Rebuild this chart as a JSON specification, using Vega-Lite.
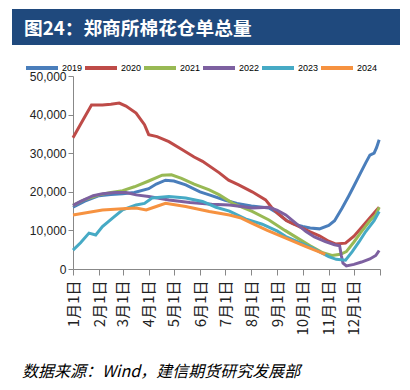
{
  "$schema": "https://vega.github.io/schema/vega-lite/v6.json",
  "padding": {"left": 12, "top": 9, "right": 10, "bottom": 5},
  "background": "white",
  "columns": 1,
  "align": "none",
  "spacing": -7,
  "resolve": {"scale": {"color": "independent", "x": "independent", "y": "independent"}, "legend": {"color": "independent"}},
  "config": {"view": {"stroke": null}, "font": "Noto Sans CJK SC"},
  "title": {"text": "数据来源：Wind，建信期货研究发展部", "orient": "bottom", "anchor": "start", "fontSize": 16, "fontStyle": "italic", "fontWeight": "normal", "font": "Noto Sans CJK SC", "color": "#000", "offset": 29, "dx": 10},
  "datasets": {
    "cotton": [
      {"year": "2019", "d": "2021-01-01", "v": 16000}, {"year": "2019", "d": "2021-01-15", "v": 17600}, {"year": "2019", "d": "2021-02-01", "v": 19000}, {"year": "2019", "d": "2021-02-15", "v": 19300}, {"year": "2019", "d": "2021-03-01", "v": 19500}, {"year": "2019", "d": "2021-03-15", "v": 19800}, {"year": "2019", "d": "2021-04-01", "v": 20800}, {"year": "2019", "d": "2021-04-10", "v": 22000}, {"year": "2019", "d": "2021-04-21", "v": 23000}, {"year": "2019", "d": "2021-05-01", "v": 22800}, {"year": "2019", "d": "2021-05-15", "v": 21800}, {"year": "2019", "d": "2021-06-01", "v": 20000}, {"year": "2019", "d": "2021-06-12", "v": 19200}, {"year": "2019", "d": "2021-07-01", "v": 17800}, {"year": "2019", "d": "2021-07-15", "v": 17000}, {"year": "2019", "d": "2021-08-01", "v": 16300}, {"year": "2019", "d": "2021-08-22", "v": 15800}, {"year": "2019", "d": "2021-09-01", "v": 14500}, {"year": "2019", "d": "2021-09-11", "v": 12700}, {"year": "2019", "d": "2021-09-20", "v": 11700}, {"year": "2019", "d": "2021-10-01", "v": 11000}, {"year": "2019", "d": "2021-10-10", "v": 10600}, {"year": "2019", "d": "2021-10-21", "v": 10400}, {"year": "2019", "d": "2021-11-01", "v": 11300}, {"year": "2019", "d": "2021-11-08", "v": 12500}, {"year": "2019", "d": "2021-11-17", "v": 15800}, {"year": "2019", "d": "2021-11-25", "v": 19000}, {"year": "2019", "d": "2021-12-01", "v": 21500}, {"year": "2019", "d": "2021-12-08", "v": 24500}, {"year": "2019", "d": "2021-12-15", "v": 27500}, {"year": "2019", "d": "2021-12-20", "v": 29500}, {"year": "2019", "d": "2021-12-25", "v": 30000}, {"year": "2019", "d": "2021-12-28", "v": 31500}, {"year": "2019", "d": "2021-12-31", "v": 33500},
      {"year": "2020", "d": "2021-01-01", "v": 34000}, {"year": "2020", "d": "2021-01-10", "v": 37500}, {"year": "2020", "d": "2021-01-23", "v": 42500}, {"year": "2020", "d": "2021-02-05", "v": 42500}, {"year": "2020", "d": "2021-02-15", "v": 42700}, {"year": "2020", "d": "2021-02-25", "v": 43000}, {"year": "2020", "d": "2021-03-05", "v": 42200}, {"year": "2020", "d": "2021-03-17", "v": 40400}, {"year": "2020", "d": "2021-03-27", "v": 37400}, {"year": "2020", "d": "2021-04-01", "v": 34800}, {"year": "2020", "d": "2021-04-11", "v": 34300}, {"year": "2020", "d": "2021-04-25", "v": 33000}, {"year": "2020", "d": "2021-05-11", "v": 30900}, {"year": "2020", "d": "2021-05-25", "v": 29000}, {"year": "2020", "d": "2021-06-04", "v": 27900}, {"year": "2020", "d": "2021-06-24", "v": 24900}, {"year": "2020", "d": "2021-07-05", "v": 23000}, {"year": "2020", "d": "2021-07-17", "v": 21800}, {"year": "2020", "d": "2021-08-02", "v": 20000}, {"year": "2020", "d": "2021-08-18", "v": 17900}, {"year": "2020", "d": "2021-08-25", "v": 16000}, {"year": "2020", "d": "2021-09-01", "v": 14500}, {"year": "2020", "d": "2021-09-12", "v": 12500}, {"year": "2020", "d": "2021-09-27", "v": 11000}, {"year": "2020", "d": "2021-10-10", "v": 9600}, {"year": "2020", "d": "2021-10-21", "v": 8600}, {"year": "2020", "d": "2021-11-01", "v": 7200}, {"year": "2020", "d": "2021-11-09", "v": 6500}, {"year": "2020", "d": "2021-11-21", "v": 6700}, {"year": "2020", "d": "2021-12-01", "v": 8500}, {"year": "2020", "d": "2021-12-07", "v": 10000}, {"year": "2020", "d": "2021-12-17", "v": 12500}, {"year": "2020", "d": "2021-12-27", "v": 15000}, {"year": "2020", "d": "2021-12-31", "v": 16000},
      {"year": "2021", "d": "2021-01-01", "v": 16500}, {"year": "2021", "d": "2021-01-15", "v": 18000}, {"year": "2021", "d": "2021-02-01", "v": 19200}, {"year": "2021", "d": "2021-02-15", "v": 19800}, {"year": "2021", "d": "2021-03-01", "v": 20300}, {"year": "2021", "d": "2021-03-15", "v": 21300}, {"year": "2021", "d": "2021-04-01", "v": 22800}, {"year": "2021", "d": "2021-04-17", "v": 24300}, {"year": "2021", "d": "2021-04-28", "v": 24400}, {"year": "2021", "d": "2021-05-10", "v": 23500}, {"year": "2021", "d": "2021-05-25", "v": 22000}, {"year": "2021", "d": "2021-06-12", "v": 20500}, {"year": "2021", "d": "2021-06-24", "v": 19200}, {"year": "2021", "d": "2021-07-10", "v": 17000}, {"year": "2021", "d": "2021-08-02", "v": 14900}, {"year": "2021", "d": "2021-08-22", "v": 12700}, {"year": "2021", "d": "2021-09-10", "v": 10000}, {"year": "2021", "d": "2021-09-25", "v": 8000}, {"year": "2021", "d": "2021-10-10", "v": 6000}, {"year": "2021", "d": "2021-10-25", "v": 4200}, {"year": "2021", "d": "2021-11-05", "v": 3500}, {"year": "2021", "d": "2021-11-15", "v": 3800}, {"year": "2021", "d": "2021-11-22", "v": 4500}, {"year": "2021", "d": "2021-12-01", "v": 7000}, {"year": "2021", "d": "2021-12-10", "v": 9700}, {"year": "2021", "d": "2021-12-20", "v": 12500}, {"year": "2021", "d": "2021-12-27", "v": 14000}, {"year": "2021", "d": "2021-12-31", "v": 16000},
      {"year": "2022", "d": "2021-01-01", "v": 16500}, {"year": "2022", "d": "2021-01-10", "v": 17500}, {"year": "2022", "d": "2021-01-25", "v": 19000}, {"year": "2022", "d": "2021-02-05", "v": 19500}, {"year": "2022", "d": "2021-02-20", "v": 19800}, {"year": "2022", "d": "2021-03-05", "v": 19800}, {"year": "2022", "d": "2021-03-17", "v": 19200}, {"year": "2022", "d": "2021-04-01", "v": 18800}, {"year": "2022", "d": "2021-04-25", "v": 17900}, {"year": "2022", "d": "2021-05-20", "v": 17200}, {"year": "2022", "d": "2021-06-15", "v": 16800}, {"year": "2022", "d": "2021-07-06", "v": 16600}, {"year": "2022", "d": "2021-07-20", "v": 16200}, {"year": "2022", "d": "2021-08-02", "v": 15800}, {"year": "2022", "d": "2021-08-22", "v": 16000}, {"year": "2022", "d": "2021-09-01", "v": 15200}, {"year": "2022", "d": "2021-09-11", "v": 14000}, {"year": "2022", "d": "2021-09-22", "v": 12000}, {"year": "2022", "d": "2021-10-05", "v": 9700}, {"year": "2022", "d": "2021-10-15", "v": 8300}, {"year": "2022", "d": "2021-10-28", "v": 7100}, {"year": "2022", "d": "2021-11-08", "v": 6300}, {"year": "2022", "d": "2021-11-14", "v": 6000}, {"year": "2022", "d": "2021-11-16", "v": 3500}, {"year": "2022", "d": "2021-11-18", "v": 1500}, {"year": "2022", "d": "2021-11-22", "v": 800}, {"year": "2022", "d": "2021-12-01", "v": 1200}, {"year": "2022", "d": "2021-12-10", "v": 1800}, {"year": "2022", "d": "2021-12-20", "v": 2600}, {"year": "2022", "d": "2021-12-27", "v": 3500}, {"year": "2022", "d": "2021-12-31", "v": 4800},
      {"year": "2023", "d": "2021-01-01", "v": 4900}, {"year": "2023", "d": "2021-01-10", "v": 6800}, {"year": "2023", "d": "2021-01-20", "v": 9300}, {"year": "2023", "d": "2021-01-28", "v": 8800}, {"year": "2023", "d": "2021-02-05", "v": 11000}, {"year": "2023", "d": "2021-02-17", "v": 13200}, {"year": "2023", "d": "2021-03-01", "v": 15300}, {"year": "2023", "d": "2021-03-17", "v": 16600}, {"year": "2023", "d": "2021-03-27", "v": 17000}, {"year": "2023", "d": "2021-04-05", "v": 18400}, {"year": "2023", "d": "2021-04-25", "v": 18800}, {"year": "2023", "d": "2021-05-15", "v": 18400}, {"year": "2023", "d": "2021-06-04", "v": 17500}, {"year": "2023", "d": "2021-06-20", "v": 16000}, {"year": "2023", "d": "2021-07-06", "v": 15000}, {"year": "2023", "d": "2021-07-25", "v": 13000}, {"year": "2023", "d": "2021-08-14", "v": 11600}, {"year": "2023", "d": "2021-09-01", "v": 9800}, {"year": "2023", "d": "2021-09-11", "v": 8400}, {"year": "2023", "d": "2021-10-01", "v": 6500}, {"year": "2023", "d": "2021-10-13", "v": 5400}, {"year": "2023", "d": "2021-11-01", "v": 3200}, {"year": "2023", "d": "2021-11-10", "v": 2500}, {"year": "2023", "d": "2021-11-21", "v": 2300}, {"year": "2023", "d": "2021-11-29", "v": 4500}, {"year": "2023", "d": "2021-12-07", "v": 7000}, {"year": "2023", "d": "2021-12-15", "v": 9700}, {"year": "2023", "d": "2021-12-25", "v": 12500}, {"year": "2023", "d": "2021-12-31", "v": 14900},
      {"year": "2024", "d": "2021-01-01", "v": 14000}, {"year": "2024", "d": "2021-01-15", "v": 14500}, {"year": "2024", "d": "2021-02-05", "v": 15300}, {"year": "2024", "d": "2021-03-01", "v": 15600}, {"year": "2024", "d": "2021-03-17", "v": 15800}, {"year": "2024", "d": "2021-03-29", "v": 15300}, {"year": "2024", "d": "2021-04-10", "v": 16200}, {"year": "2024", "d": "2021-04-21", "v": 17000}, {"year": "2024", "d": "2021-05-15", "v": 16200}, {"year": "2024", "d": "2021-06-12", "v": 14900}, {"year": "2024", "d": "2021-07-06", "v": 14000}, {"year": "2024", "d": "2021-07-20", "v": 13200}, {"year": "2024", "d": "2021-08-02", "v": 11800}, {"year": "2024", "d": "2021-08-20", "v": 10000}, {"year": "2024", "d": "2021-09-11", "v": 8000}, {"year": "2024", "d": "2021-10-05", "v": 5800}, {"year": "2024", "d": "2021-10-20", "v": 4500}, {"year": "2024", "d": "2021-10-28", "v": 3800}
    ]
  },
  "concat": [
    {
      "width": 327,
      "height": 36,
      "data": {"values": [{"label": "图24：郑商所棉花仓单总量", "left": -61, "right": 327, "bottom": 0, "top": 36, "tx": -49, "ty": 16}]},
      "layer": [
        {
          "mark": {"type": "rect", "color": "#1F497D"},
          "encoding": {
            "x": {"field": "left", "type": "quantitative", "scale": {"domain": [0, 327], "nice": false, "zero": false}, "axis": null},
            "x2": {"field": "right"},
            "y": {"field": "bottom", "type": "quantitative", "scale": {"domain": [0, 36], "nice": false, "zero": false}, "axis": null},
            "y2": {"field": "top"}
          }
        },
        {
          "mark": {"type": "text", "align": "left", "baseline": "middle", "color": "white", "fontSize": 18.7, "fontWeight": "bold", "font": "Noto Sans CJK SC"},
          "encoding": {
            "text": {"field": "label"},
            "x": {"field": "tx", "type": "quantitative"},
            "y": {"field": "ty", "type": "quantitative"}
          }
        }
      ]
    },
    {
      "width": 307,
      "height": 193,
      "data": {"name": "cotton"},
      "mark": {"type": "line", "strokeWidth": 3},
      "encoding": {
        "x": {
          "field": "d", "type": "temporal",
          "scale": {"type": "utc", "domain": [{"year": 2021, "month": 1, "date": 1, "utc": true}, {"year": 2022, "month": 1, "date": 1, "utc": true}]},
          "axis": {
            "values": [
              {"year": 2021, "month": 1, "date": 1, "utc": true}, {"year": 2021, "month": 2, "date": 1, "utc": true}, {"year": 2021, "month": 3, "date": 1, "utc": true}, {"year": 2021, "month": 4, "date": 1, "utc": true}, {"year": 2021, "month": 5, "date": 1, "utc": true}, {"year": 2021, "month": 6, "date": 1, "utc": true}, {"year": 2021, "month": 7, "date": 1, "utc": true}, {"year": 2021, "month": 8, "date": 1, "utc": true}, {"year": 2021, "month": 9, "date": 1, "utc": true}, {"year": 2021, "month": 10, "date": 1, "utc": true}, {"year": 2021, "month": 11, "date": 1, "utc": true}, {"year": 2021, "month": 12, "date": 1, "utc": true}, {"year": 2022, "month": 1, "date": 1, "utc": true}
            ],
            "labelExpr": "utcyear(datum.value) > 2021 ? '' : (utcmonth(datum.value) + 1) + '月1日'",
            "labelAngle": -90, "title": null, "grid": false,
            "labelFont": "Noto Sans CJK SC", "labelFontSize": 15, "labelColor": "#222",
            "domainColor": "#888", "tickColor": "#888", "tickSize": 6, "labelPadding": 5,
            "labelOverlap": false, "labelFlush": false
          }
        },
        "y": {
          "field": "v", "type": "quantitative",
          "scale": {"domain": [0, 50000], "nice": false},
          "axis": {"values": [0, 10000, 20000, 30000, 40000, 50000], "format": ",d", "grid": false, "title": null, "labelFont": "Liberation Sans", "labelFontSize": 12, "labelColor": "#222", "domainColor": "#888", "tickColor": "#888", "tickSize": 5, "labelPadding": 2}
        },
        "color": {
          "field": "year", "type": "nominal",
          "scale": {"domain": ["2019", "2020", "2021", "2022", "2023", "2024"], "range": ["#4A7EBB", "#BE4B48", "#98B954", "#7D60A0", "#46AAC5", "#F69240"]},
          "legend": {"orient": "none", "legendX": -61, "legendY": -38, "direction": "horizontal", "title": null, "symbolType": "stroke", "symbolSize": 1024, "symbolStrokeWidth": 4, "labelFont": "Liberation Sans", "labelFontSize": 9, "labelColor": "#000", "labelOffset": 2, "columnPadding": -6.5, "padding": 12}
        }
      }
    }
  ]
}
